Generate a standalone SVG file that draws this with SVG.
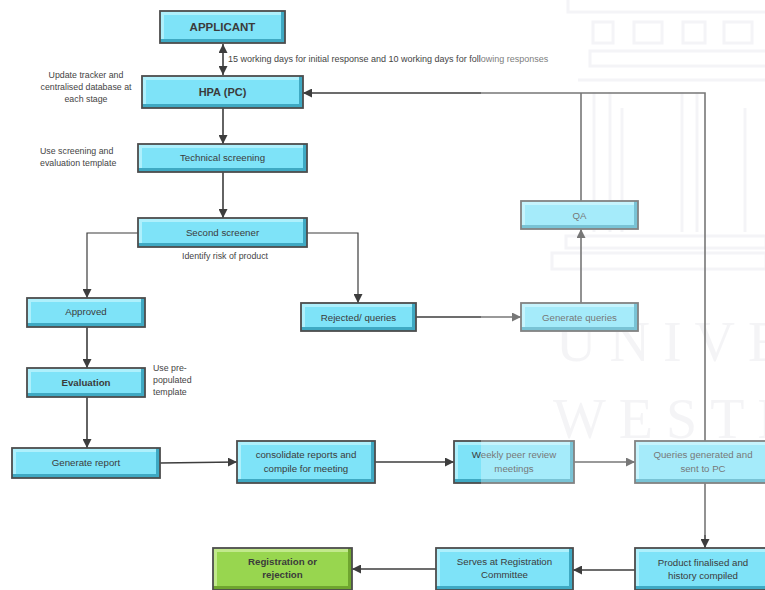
<svg xmlns="http://www.w3.org/2000/svg" width="765" height="590" viewBox="0 0 765 590">
<style>
.sh{fill:#3fa9c3}
.hl{fill:#aef0fc}
.fc{fill:#7ee3f8}
.ed{fill:none;stroke:#4d4d4d;stroke-width:1.8}
.green .sh{fill:#6fa52f}
.green .hl{fill:#c2e98c}
.green .fc{fill:#98d64f}
.lbl{font-family:"Liberation Sans",Arial,sans-serif;font-size:9.7px;fill:#3b3b3b;text-anchor:middle}
.b{font-weight:bold}
.ann{font-family:"Liberation Sans",Arial,sans-serif;font-size:8.8px;fill:#444}
.mid{text-anchor:middle}
.conn{fill:none;stroke:#3d3d3d;stroke-width:1.6}
.thin{stroke-width:1.2}
.wm{fill:none;stroke:#f0f0f4;stroke-width:3}
.wmt{font-family:"Liberation Serif","Times New Roman",serif;font-size:56px;fill:#f0f0f3;letter-spacing:13px}
</style>
<defs>
<marker id="arr" viewBox="0 0 10 10" refX="10" refY="5" markerWidth="9" markerHeight="9" markerUnits="userSpaceOnUse" orient="auto-start-reverse">
<path d="M0,0 L10,5 L0,10 z" fill="#3d3d3d"/>
</marker>
</defs>

<g id="watermark-back">
<rect class="wm" x="568" y="-2" width="200" height="14"/>
<rect class="wm" x="593" y="22" width="20" height="21"/>
<rect class="wm" x="634" y="22" width="28" height="21"/>
<rect class="wm" x="683" y="22" width="22" height="21"/>
<rect class="wm" x="724" y="22" width="28" height="21"/>
<rect class="wm" x="590" y="51" width="180" height="15"/>
<line class="wm" x1="578" y1="80" x2="765" y2="80"/>
<line class="wm" x1="594" y1="92" x2="594" y2="232"/>
<line class="wm" x1="610" y1="92" x2="610" y2="232"/>
<line class="wm" x1="682" y1="92" x2="682" y2="232"/>
<line class="wm" x1="697" y1="92" x2="697" y2="232"/>
<line class="wm" x1="622" y1="108" x2="622" y2="232"/>
<line class="wm" x1="745" y1="108" x2="745" y2="232"/>
<rect class="wm" x="566" y="236" width="200" height="12"/>
<rect class="wm" x="552" y="253" width="214" height="16"/>
<text class="wmt" x="556" y="361">UNIVE</text>
<text class="wmt" x="553" y="438">WESTE</text>
</g>

<g id="connectors">
<line class="conn" x1="223" y1="44" x2="223" y2="75" marker-start="url(#arr)" marker-end="url(#arr)"/>
<line class="conn" x1="223" y1="108" x2="223" y2="144" marker-end="url(#arr)"/>
<line class="conn" x1="223" y1="172" x2="223" y2="218" marker-end="url(#arr)"/>
<path class="conn thin" d="M138,233 H87 V298" marker-end="url(#arr)"/>
<path class="conn thin" d="M307,233 H358 V303" marker-end="url(#arr)"/>
<line class="conn" x1="87" y1="327" x2="87" y2="368" marker-end="url(#arr)"/>
<line class="conn" x1="87" y1="397" x2="87" y2="448" marker-end="url(#arr)"/>
<path class="conn" d="M160,463 L237,462" marker-end="url(#arr)"/>
<path class="conn" d="M375,462 H454" marker-end="url(#arr)"/>
<path class="conn" d="M574,462 H635" marker-end="url(#arr)"/>
<path class="conn" d="M705,441 V93 H303" marker-end="url(#arr)"/>
<path class="conn" d="M581,201 V93"/>
<path class="conn" d="M416,317 H521" marker-end="url(#arr)"/>
<path class="conn" d="M581,303 V229" marker-end="url(#arr)"/>
<path class="conn" d="M705,483 V548" marker-end="url(#arr)"/>
<path class="conn" d="M635,570 H573" marker-end="url(#arr)"/>
<path class="conn" d="M436,569 H352" marker-end="url(#arr)"/>
</g>

<g id="n-applicant" class="node">
<rect class="sh" x="160" y="11" width="125" height="32"/><rect class="hl" x="160" y="11" width="121" height="28"/><rect class="fc" x="164" y="15" width="117" height="24"/><rect class="ed" x="160" y="11" width="125" height="32"/>
<text class="lbl b" x="222.5" y="31" style="font-size:11.5px">APPLICANT</text>
</g>
<g id="n-hpa" class="node">
<rect class="sh" x="142" y="76" width="161" height="32"/><rect class="hl" x="142" y="76" width="157" height="28"/><rect class="fc" x="146" y="80" width="153" height="24"/><rect class="ed" x="142" y="76" width="161" height="32"/>
<text class="lbl b" x="222.5" y="96" style="font-size:11px">HPA (PC)</text>
</g>
<g id="n-tech" class="node">
<rect class="sh" x="138" y="144" width="169" height="28"/><rect class="hl" x="138" y="144" width="165" height="24"/><rect class="fc" x="142" y="148" width="161" height="20"/><rect class="ed" x="138" y="144" width="169" height="28"/>
<text class="lbl" x="222.5" y="161">Technical screening</text>
</g>
<g id="n-second" class="node">
<rect class="sh" x="138" y="218" width="169" height="29"/><rect class="hl" x="138" y="218" width="165" height="25"/><rect class="fc" x="142" y="222" width="161" height="21"/><rect class="ed" x="138" y="218" width="169" height="29"/>
<text class="lbl" x="222.5" y="235.5">Second screener</text>
</g>
<g id="n-approved" class="node">
<rect class="sh" x="27" y="298" width="118" height="29"/><rect class="hl" x="27" y="298" width="114" height="25"/><rect class="fc" x="31" y="302" width="110" height="21"/><rect class="ed" x="27" y="298" width="118" height="29"/>
<text class="lbl" x="86" y="315">Approved</text>
</g>
<g id="n-rejected" class="node">
<rect class="sh" x="301" y="303" width="115" height="28"/><rect class="hl" x="301" y="303" width="111" height="24"/><rect class="fc" x="305" y="307" width="107" height="20"/><rect class="ed" x="301" y="303" width="115" height="28"/>
<text class="lbl" x="358.5" y="320.5">Rejected/ queries</text>
</g>
<g id="n-genq" class="node">
<rect class="sh" x="521" y="303" width="117" height="28"/><rect class="hl" x="521" y="303" width="113" height="24"/><rect class="fc" x="525" y="307" width="109" height="20"/><rect class="ed" x="521" y="303" width="117" height="28"/>
<text class="lbl" x="579.5" y="320.5">Generate queries</text>
</g>
<g id="n-qa" class="node">
<rect class="sh" x="521" y="201" width="117" height="28"/><rect class="hl" x="521" y="201" width="113" height="24"/><rect class="fc" x="525" y="205" width="109" height="20"/><rect class="ed" x="521" y="201" width="117" height="28"/>
<text class="lbl" x="579.5" y="218.5">QA</text>
</g>
<g id="n-evaluation" class="node">
<rect class="sh" x="27" y="368" width="118" height="29"/><rect class="hl" x="27" y="368" width="114" height="25"/><rect class="fc" x="31" y="372" width="110" height="21"/><rect class="ed" x="27" y="368" width="118" height="29"/>
<text class="lbl b" x="86" y="385.5">Evaluation</text>
</g>
<g id="n-genreport" class="node">
<rect class="sh" x="12" y="448" width="148" height="30"/><rect class="hl" x="12" y="448" width="144" height="26"/><rect class="fc" x="16" y="452" width="140" height="22"/><rect class="ed" x="12" y="448" width="148" height="30"/>
<text class="lbl" x="86" y="465.5">Generate report</text>
</g>
<g id="n-consolidate" class="node">
<rect class="sh" x="237" y="441" width="138" height="42"/><rect class="hl" x="237" y="441" width="134" height="38"/><rect class="fc" x="241" y="445" width="130" height="34"/><rect class="ed" x="237" y="441" width="138" height="42"/>
<text class="lbl" x="306" y="457.5">consolidate reports and</text>
<text class="lbl" x="306" y="471.5">compile for meeting</text>
</g>
<g id="n-weekly" class="node">
<rect class="sh" x="454" y="441" width="120" height="42"/><rect class="hl" x="454" y="441" width="116" height="38"/><rect class="fc" x="458" y="445" width="112" height="34"/><rect class="ed" x="454" y="441" width="120" height="42"/>
<text class="lbl" x="514" y="457.5">Weekly peer review</text>
<text class="lbl" x="514" y="471.5">meetings</text>
</g>
<g id="n-queriesgen" class="node">
<rect class="sh" x="635" y="441" width="136" height="42"/><rect class="hl" x="635" y="441" width="132" height="38"/><rect class="fc" x="639" y="445" width="128" height="34"/><rect class="ed" x="635" y="441" width="136" height="42"/>
<text class="lbl" x="703" y="457.5">Queries generated and</text>
<text class="lbl" x="703" y="471.5">sent to PC</text>
</g>
<g id="n-product" class="node">
<rect class="sh" x="635" y="548" width="136" height="42"/><rect class="hl" x="635" y="548" width="132" height="38"/><rect class="fc" x="639" y="552" width="128" height="34"/><rect class="ed" x="635" y="548" width="136" height="42"/>
<text class="lbl" x="703" y="565.5">Product finalised and</text>
<text class="lbl" x="703" y="578.5">history compiled</text>
</g>
<g id="n-serves" class="node">
<rect class="sh" x="436" y="548" width="137" height="42"/><rect class="hl" x="436" y="548" width="133" height="38"/><rect class="fc" x="440" y="552" width="129" height="34"/><rect class="ed" x="436" y="548" width="137" height="42"/>
<text class="lbl" x="504.5" y="564.5">Serves at Registration</text>
<text class="lbl" x="504.5" y="577.5">Committee</text>
</g>
<g id="n-registration" class="node green">
<rect class="sh" x="213" y="548" width="139" height="42"/><rect class="hl" x="213" y="548" width="135" height="38"/><rect class="fc" x="217" y="552" width="131" height="34"/><rect class="ed" x="213" y="548" width="139" height="42"/>
<text class="lbl b" x="282.5" y="564.5">Registration or</text>
<text class="lbl b" x="282.5" y="577.5">rejection</text>
</g>

<g id="annotations">
<text class="ann" x="228" y="62" style="font-size:9px">15 working days for initial response and 10 working days for following responses</text>
<text class="ann mid" x="86" y="78">Update tracker and</text>
<text class="ann mid" x="86" y="90">centralised database at</text>
<text class="ann mid" x="86" y="102">each stage</text>
<text class="ann" x="40" y="154">Use screening and</text>
<text class="ann" x="40" y="166">evaluation template</text>
<text class="ann mid" x="225" y="259">Identify risk of product</text>
<text class="ann" x="153" y="371">Use pre-</text>
<text class="ann" x="153" y="383">populated</text>
<text class="ann" x="153" y="395">template</text>
</g>

<g id="watermark-veil">
<rect x="481" y="0" width="284" height="535" fill="#ffffff" opacity="0.3"/>
</g>
</svg>
